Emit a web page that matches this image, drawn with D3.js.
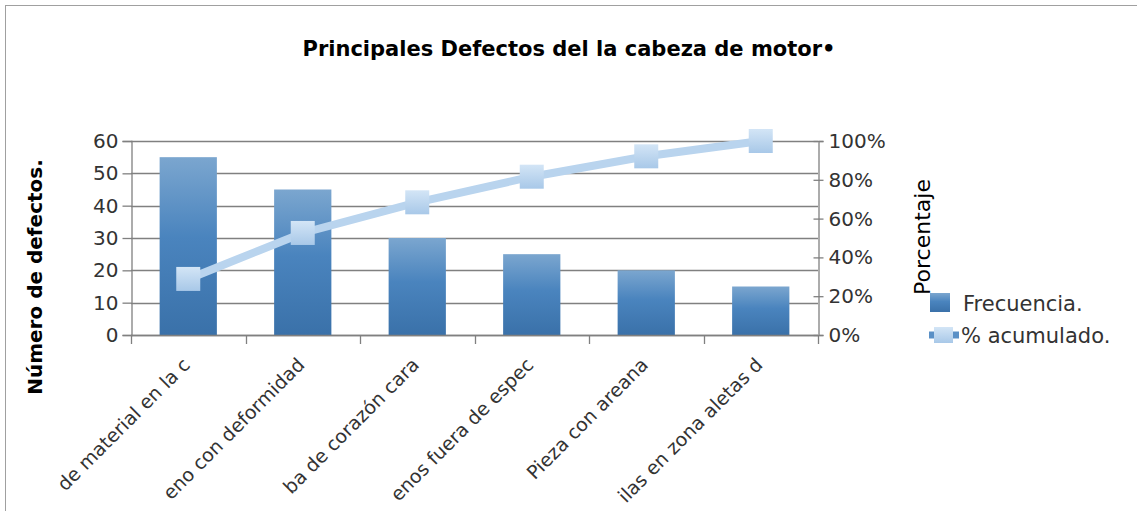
<!DOCTYPE html>
<html>
<head>
<meta charset="utf-8">
<script src="https://cdn.jsdelivr.net/npm/d3@7"></script>
<style>
  body { margin: 0; background: #fff; }
  svg { display: block; font-family: 'DejaVu Sans', sans-serif; }
</style>
</head>
<body>
<svg id="chart" width="1137" height="511"></svg>
<script>
// Datos del gráfico (etiquetas tal como se ven, recortadas)
const categorias = ['de material en la c', 'eno con deformidad', 'ba de corazón cara', 'enos fuera de espec', 'Pieza con areana', 'ilas en zona aletas d'];
const frecuencia = [55, 45, 30, 25, 20, 15];
const acumulado = [0.289, 0.526, 0.684, 0.816, 0.921, 1.0];
const ticksIzq = [0, 10, 20, 30, 40, 50, 60];
const ticksDer = [0, 0.2, 0.4, 0.6, 0.8, 1.0];

const svg = d3.select('#chart');
const plot = { left: 131, right: 818, top: 141, bottom: 335 };

const defs = svg.append('defs');
const gBar = defs.append('linearGradient').attr('id', 'gBar').attr('x1', 0).attr('y1', 0).attr('x2', 0).attr('y2', 1);
gBar.append('stop').attr('offset', '0%').attr('stop-color', '#7ba6cf');
gBar.append('stop').attr('offset', '45%').attr('stop-color', '#4a84be');
gBar.append('stop').attr('offset', '100%').attr('stop-color', '#3a71a9');

const gMark = defs.append('linearGradient').attr('id', 'gMark').attr('x1', 0).attr('y1', 0).attr('x2', 0).attr('y2', 1);
gMark.append('stop').attr('offset', '0%').attr('stop-color', '#d3e5f6');
gMark.append('stop').attr('offset', '100%').attr('stop-color', '#a8c8e8');

// Borde del área del gráfico
svg.append('rect')
  .attr('x', 5.5).attr('y', 5.5).attr('width', 1200).attr('height', 600)
  .style('fill', 'none').style('stroke', '#a0a0a0').style('stroke-width', 1);

const xScale = d3.scaleBand().domain(categorias).range([plot.left, plot.right]).paddingInner(0.5).paddingOuter(0.25);
const yScale = d3.scaleLinear().domain([0, 60]).range([plot.bottom, plot.top]);
const y2Scale = d3.scaleLinear().domain([0, 1]).range([plot.bottom, plot.top]);

// Líneas de cuadrícula
svg.append('g')
  .selectAll('line')
  .data(ticksIzq)
  .enter()
  .append('line')
  .attr('x1', plot.left)
  .attr('x2', plot.right)
  .attr('y1', d => Math.round(yScale(d)) + 0.5)
  .attr('y2', d => Math.round(yScale(d)) + 0.5)
  .style('stroke', '#808080')
  .style('stroke-width', 1.3);

// Eje izquierdo
svg.append('g')
  .attr('transform', `translate(${plot.left + 0.5}, 0)`)
  .call(d3.axisLeft(yScale).tickValues(ticksIzq).tickSize(9).tickPadding(4))
  .call(g => g.select('.domain').style('stroke', '#808080').style('stroke-width', 1.3))
  .call(g => g.selectAll('.tick line').style('stroke', '#808080').style('stroke-width', 1.3))
  .selectAll('.tick text')
  .style('fill', '#333')
  .style('font-size', '20px')
  .style('font-family', "'DejaVu Sans', sans-serif");

// Eje derecho
svg.append('g')
  .attr('transform', `translate(${plot.right + 0.5}, 0)`)
  .call(d3.axisRight(y2Scale).tickValues(ticksDer).tickFormat(d3.format('.0%')).tickSize(5).tickPadding(5))
  .call(g => g.select('.domain').style('stroke', '#808080').style('stroke-width', 1.3))
  .call(g => g.selectAll('.tick line').attr('x1', -5).style('stroke', '#808080').style('stroke-width', 1.3))
  .selectAll('.tick text')
  .style('fill', '#333')
  .style('font-size', '20px')
  .style('font-family', "'DejaVu Sans', sans-serif");

// Barras
svg.append('g')
  .selectAll('rect')
  .data(frecuencia)
  .enter()
  .append('rect')
  .attr('x', (d, i) => xScale(categorias[i]))
  .attr('y', d => yScale(d))
  .attr('width', xScale.bandwidth())
  .attr('height', d => plot.bottom - yScale(d))
  .style('fill', 'url(#gBar)');

// Eje inferior con marcas entre categorías
const step = xScale.step();
const marcas = d3.range(0, categorias.length + 1).map(i => plot.left + i * step);
svg.append('line')
  .attr('x1', plot.left).attr('x2', plot.right)
  .attr('y1', plot.bottom + 0.5).attr('y2', plot.bottom + 0.5)
  .style('stroke', '#808080').style('stroke-width', 1.3);
svg.append('g')
  .selectAll('line')
  .data(marcas)
  .enter()
  .append('line')
  .attr('x1', d => Math.round(d) + 0.5)
  .attr('x2', d => Math.round(d) + 0.5)
  .attr('y1', plot.bottom)
  .attr('y2', plot.bottom + 9)
  .style('stroke', '#808080')
  .style('stroke-width', 1.3);

// Etiquetas de categorías giradas
svg.append('g')
  .selectAll('text')
  .data(categorias)
  .enter()
  .append('text')
  .attr('transform', d => `translate(${xScale(d) + xScale.bandwidth() / 2 + 3}, 366) rotate(-45)`)
  .attr('text-anchor', 'end')
  .style('fill', '#333')
  .style('font-size', '19px')
  .text(d => d);

// Línea de % acumulado
const cx = i => xScale(categorias[i]) + xScale.bandwidth() / 2;
svg.append('path')
  .datum(acumulado)
  .attr('d', d3.line().x((d, i) => cx(i)).y(d => y2Scale(d)))
  .style('fill', 'none')
  .style('stroke', '#b9d4ee')
  .style('stroke-width', 8);

svg.append('g')
  .selectAll('rect')
  .data(acumulado)
  .enter()
  .append('rect')
  .attr('x', (d, i) => cx(i) - 12)
  .attr('y', d => y2Scale(d) - 12)
  .attr('width', 24)
  .attr('height', 24)
  .style('fill', 'url(#gMark)');

// Título
svg.append('text')
  .attr('x', 569)
  .attr('y', 56)
  .attr('text-anchor', 'middle')
  .style('fill', '#000')
  .style('font-size', '21px')
  .style('font-weight', 'bold')
  .text('Principales Defectos del la cabeza de motor•');

// Títulos de ejes
svg.append('text')
  .attr('transform', 'translate(42, 277) rotate(-90)')
  .attr('text-anchor', 'middle')
  .style('fill', '#000')
  .style('font-size', '20px')
  .style('font-weight', 'bold')
  .text('Número de defectos.');

svg.append('text')
  .attr('transform', 'translate(930, 237) rotate(-90)')
  .attr('text-anchor', 'middle')
  .style('fill', '#000')
  .style('font-size', '22px')
  .text('Porcentaje');

// Leyenda
svg.append('rect')
  .attr('x', 930).attr('y', 293).attr('width', 20).attr('height', 19)
  .style('fill', 'url(#gBar)');
svg.append('text')
  .attr('x', 963).attr('y', 311)
  .style('fill', '#333').style('font-size', '21px')
  .text('Frecuencia.');

svg.append('line')
  .attr('x1', 929).attr('x2', 959).attr('y1', 335).attr('y2', 335)
  .style('stroke', '#5a90c6').style('stroke-width', 7);
svg.append('rect')
  .attr('x', 934).attr('y', 327).attr('width', 19).attr('height', 16)
  .style('fill', 'url(#gMark)');
svg.append('text')
  .attr('x', 961).attr('y', 343)
  .style('fill', '#333').style('font-size', '21px')
  .text('% acumulado.');
</script>
</body>
</html>
